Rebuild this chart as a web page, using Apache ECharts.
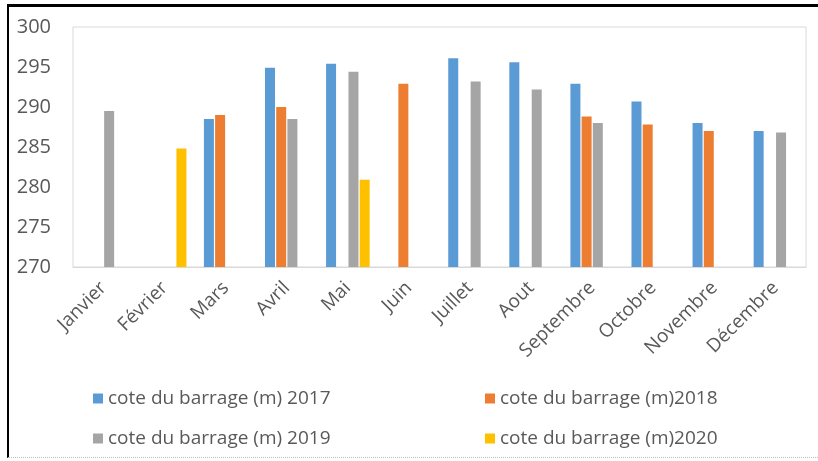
<!DOCTYPE html>
<html>
<head>
<meta charset="utf-8">
<script src="https://cdn.jsdelivr.net/npm/echarts@6/dist/echarts.min.js"></script>
<style>
html,body{margin:0;padding:0;background:#fff;}
#frame{position:absolute;left:7px;top:4px;width:811px;height:454px;border-left:2px solid #000;border-top:3px solid #000;border-bottom:1px dotted #bbb;box-sizing:border-box;}
#chart{position:absolute;left:0;top:0;width:818px;height:461px;}
</style>
</head>
<body>
<div id="frame"></div>
<div id="chart"></div>
<script>
const months = ['Janvier','Février','Mars','Avril','Mai','Juin','Juillet','Aout','Septembre','Octobre','Novembre','Décembre'];
const names = ['cote du barrage (m) 2017','cote du barrage (m)2018','cote du barrage (m) 2019','cote du barrage (m)2020'];
const v2017 = [null, null, 288.5, 294.9, 295.4, null, 296.1, 295.6, 292.9, 290.7, 288.0, 287.0];
const v2018 = [null, null, 289.0, 290.0, null, 292.9, null, null, 288.8, 287.8, 287.0, null];
const v2019 = [289.5, null, null, 288.5, 294.4, null, 293.2, 292.2, 288.0, null, null, 286.8];
const v2020 = [null, 284.8, null, null, 280.9, null, null, null, null, null, null, null];
const yTicks = {min: 270, max: 300, interval: 5};
const colors = ['#5B9BD5','#ED7D31','#A5A5A5','#FFC000'];

const chart = echarts.init(document.getElementById('chart'));
const values = [v2017, v2018, v2019, v2020];
const txt = {color:'#595959', fontFamily:'Open Sans', fontSize:19};
chart.setOption({
  animation:false,
  color: colors,
  grid:{left:73, right:12, top:27, bottom:194, show:true, borderColor:'#D9D9D9', borderWidth:1},
  legend:[
    {left:88, top:384, orient:'vertical', itemGap:21, itemWidth:10, itemHeight:10, icon:'rect',
     textStyle:txt, data:[names[0], names[2]]},
    {left:480, top:384, orient:'vertical', itemGap:21, itemWidth:10, itemHeight:10, icon:'rect',
     textStyle:txt, data:[names[1], names[3]]}
  ],
  xAxis:{type:'category', data:months,
    axisLine:{show:true, lineStyle:{color:'#D9D9D9'}}, axisTick:{show:false},
    axisLabel:{rotate:45, color:'#595959', fontFamily:'Open Sans', fontSize:19, margin:18, interval:0}},
  yAxis:{type:'value', min:yTicks.min, max:yTicks.max, interval:yTicks.interval,
    axisLine:{show:false}, axisTick:{show:false}, splitLine:{show:false},
    axisLabel:{color:'#595959', fontFamily:'Open Sans', fontSize:20, margin:22}},
  series: names.map((n,i)=>({name:n, type:'bar', data:values[i], barWidth:10, barGap:'12%',
    itemStyle:{color:colors[i]}}))
});
</script>
</body>
</html>
